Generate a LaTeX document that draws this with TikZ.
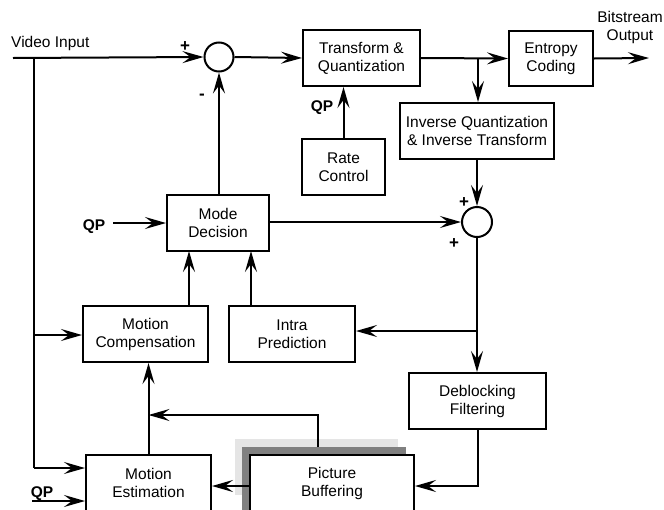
\documentclass[tikz,border=0pt]{standalone}
\usepackage{fontspec}
\setmainfont{Liberation Sans}
\usetikzlibrary{arrows.meta,calc}
\tikzset{bigtip/.tip={Stealth[length=21pt,width=12pt,inset=8pt]}}
\begin{document}
\begin{tikzpicture}[x=1pt,y=-1pt,
  font=\fontsize{15.5}{18}\selectfont,
  blk/.style={draw,line width=2pt,align=center,inner sep=0pt,minimum height=56pt},
  summ/.style={draw,circle,line width=2pt,minimum size=29pt,inner sep=0pt},
  ln/.style={line width=2pt},
  arr/.style={line width=2pt,-bigtip},
  lbl/.style={inner sep=0pt},
  sgn/.style={inner sep=0pt,font=\fontsize{17}{18}\selectfont\bfseries}
]
\clip (0,0) rectangle (664,509);
\fill[white] (0,0) rectangle (664,509);

% shadows of picture buffer
\fill[gray!20] (235,439) rectangle (398,495);
\fill[gray] (242,447) rectangle (406,520);

% blocks
\node[blk,minimum width=117pt] (tq) at (361.5,58) {Transform \&\\Quantization};
\node[blk,minimum width=84pt,minimum height=55pt] (ec) at (551,58.5) {Entropy\\Coding};
\node[blk,minimum width=154pt] (iq) at (477,131) {Inverse Quantization\\\& Inverse Transform};
\node[blk,minimum width=83pt] (rc) at (343.5,167) {Rate\\Control};
\node[blk,minimum width=102pt] (md) at (218,223) {Mode\\Decision};
\node[blk,minimum width=125pt] (mc) at (145.5,334) {Motion\\Compensation};
\node[blk,minimum width=126pt] (ip) at (292,334) {Intra\\Prediction};
\node[blk,minimum width=137pt] (db) at (477.5,401) {Deblocking\\Filtering};
\node[blk,minimum width=125pt] (me) at (148.5,483) {Motion\\Estimation};
\node[blk,minimum width=164pt,fill=white] (pb) at (332,483) {Picture\\Buffering};

% summing junctions
\node[summ] (s1) at (219,57) {};
\node[summ,minimum size=30pt] (s2) at (477,222) {};

% labels
\node[lbl,anchor=west] (vin) at (11,43) {Video Input};
\node[lbl,align=center] (bout) at (630,27) {Bitstream\\Output};
\node[sgn] (p1) at (185,47) {+};
\node[sgn] (m1) at (202,97) {-};
\node[sgn] (p2) at (464,203) {+};
\node[sgn] (p3) at (454,244) {+};
\node[lbl,font=\fontsize{15.5}{18}\selectfont\bfseries] (qp0) at (322,108) {QP};
\node[lbl,font=\fontsize{15.5}{18}\selectfont\bfseries] (qp1) at (94,227) {QP};
\node[lbl,font=\fontsize{15.5}{18}\selectfont\bfseries] (qp2) at (42,494) {QP};

% coordinates
\coordinate (vs) at (13,58);
\coordinate (vb) at (34,58);
\coordinate (bo) at (649,58);
\coordinate (q1) at (113,223);
\coordinate (q2) at (32,501);
\coordinate (br) at (478,58);
\coordinate (pbt) at (318,447);
\coordinate (pbl) at (318,415);
\coordinate (ipb) at (477,331);
\coordinate (dbc) at (478,486);
\coordinate (pbw) at ($(pb.west)+(0,3)$);

% connectors
\draw[arr] (vs) -- (s1.west);
\draw[arr] (s1.east) -- (tq.west);
\draw[arr] (tq.east) -- (ec.west);
\draw[arr] (br) -- (br |- iq.north);
\draw[arr] (ec.east) -- (bo);
\draw[arr] (rc.north) -- (rc.north |- tq.south);
\draw[arr] (md.north -| s1) -- (s1.south);
\draw[arr] (q1) -- (md.west |- q1);
\draw[arr] (md.east |- s2) -- (s2.west);
\draw[arr] (iq.south) -- (s2.north);
\draw[arr] (s2.south) -- (s2.south |- db.north);
\draw[arr] (ipb) -- (ipb -| ip.east);
\draw[arr] (189,306) -- (189,251);
\draw[arr] (251,306) -- (251,251);
\draw[ln] (vb) -- (34,468);
\draw[arr] (34,468) -- (me.west |- 0,468);
\draw[arr] (34,335) -- (mc.west |- 0,335);
\draw[arr] (me.north) -- (me.north |- mc.south);
\draw[arr] (pbt) -- (pbl) -- (pbl -| me.north);
\draw[arr] (pbw) -- (pbw -| me.east);
\draw[arr] (db.south -| dbc) -- (dbc) -- (dbc -| pb.east);
\draw[arr] (q2) -- (q2 -| me.west);
\end{tikzpicture}
\end{document}
